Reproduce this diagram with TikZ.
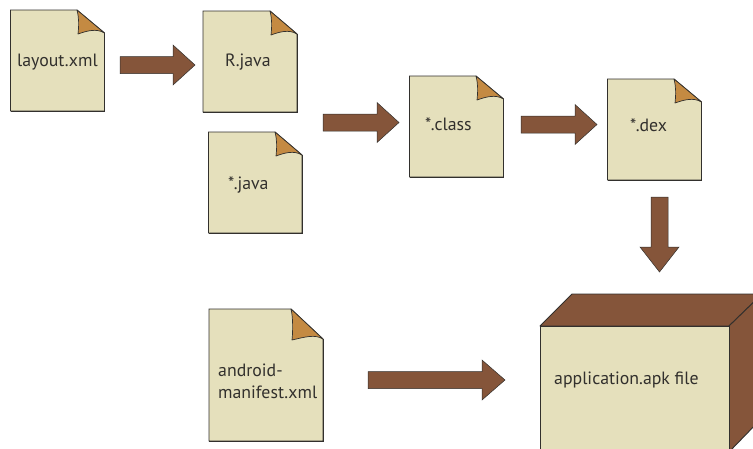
\documentclass[tikz,border=0pt]{standalone}
\usepackage{fontspec}
\setmainfont{PT Sans}
\definecolor{paper}{RGB}{229,224,188}
\definecolor{brownbox}{RGB}{133,85,58}
\definecolor{foldc}{RGB}{196,138,66}
\definecolor{inkc}{RGB}{50,48,45}
\tikzset{
  paperface/.style={fill=paper,draw=inkc,line width=0.9pt},
  foldface/.style={fill=foldc,draw=inkc,line width=0.7pt,line join=round},
  blockarrow/.style={fill=brownbox,draw=inkc,line width=0.5pt},
  boxface/.style={fill=brownbox,draw=inkc,line width=0.9pt,line join=round},
  lbl/.style={text=inkc,font=\fontsize{17.8}{22}\selectfont,inner sep=0pt,anchor=west,align=left}
}
% #1 name, #2 left, #3 top, #4 right, #5 bottom, #6 fold x, #7 fold y
\newcommand{\docshape}[7]{%
  \path[paperface] (#2,#3) -- (#6,#3) -- (#4,#7) -- (#4,#5) -- (#2,#5) -- cycle;
  \draw[inkc,line width=1.3pt] (#4+.3,#7) -- (#4+.3,#5+.3) -- (#2,#5+.3);
  \path[foldface] (#6,#3) -- (#4,#7) .. controls (#4-8,#7-5) and (#4-18,#7-2) .. (#6+1,#7+1) .. controls (#6+2,#7-8) and (#6+2,#3+8) .. (#6,#3) -- cycle;
  \coordinate (#1) at (#2,#3);
}
% horizontal arrow #1 left, #2 right, #3 centre y, #4 head start
\newcommand{\harrow}[4]{%
  \path[blockarrow] (#1,#3-8.5) -- (#4,#3-8.5) -- (#4,#3-20) -- (#2,#3) -- (#4,#3+20) -- (#4,#3+8.5) -- (#1,#3+8.5) -- cycle;
}
\begin{document}
\begin{tikzpicture}[x=1pt,y=-1pt]
\useasboundingbox (0,0) rectangle (753,448);
\docshape{d1}{10.5}{10}{104.5}{111}{77}{33}
\docshape{d2}{203}{11}{297}{112}{270}{34}
\docshape{d3}{208.5}{132}{302}{233}{275}{155}
\docshape{d4}{409.5}{76}{503.5}{177}{476}{99}
\docshape{d5}{607.5}{79}{701.5}{180}{674}{102}
\docshape{d6}{209}{309}{323}{441}{291}{339}
\node[lbl] (t1) at (17,62) {layout.xml};
\node[lbl] (t2) at (225,62) {R.java};
\node[lbl] (t3) at (228,185) {*.java};
\node[lbl] (t4) at (425,124) {*.class};
\node[lbl] (t5) at (630,125) {*.dex};
\node[lbl] (t6) at (218,381) {android-\\manifest.xml};
\harrow{120}{195}{65}{173}
\harrow{323}{399}{122.5}{377}
\harrow{521}{597}{124.5}{575}
\harrow{368}{505}{380}{482}
\path[blockarrow] (651,197) -- (668,197) -- (668,247) -- (679,247) -- (659.5,272) -- (640,247) -- (651,247) -- cycle;
% package
\path[boxface] (540,326) -- (572,294) -- (760,294) -- (760,296) -- (729,326) -- cycle;
\path[boxface] (729,326) -- (760,296) -- (760,420) -- (729,452) -- cycle;
\path[paperface] (540,452) -- (540,326) -- (729,326) -- (729,452);
\node[lbl] (t7) at (554,380) {application.apk file};
\end{tikzpicture}
\end{document}
